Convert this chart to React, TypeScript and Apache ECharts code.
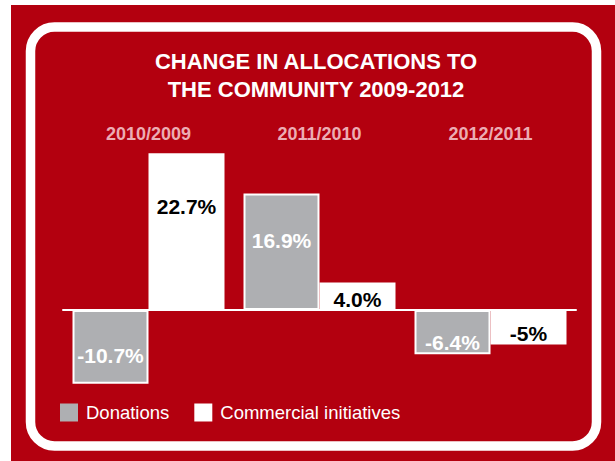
import React, { useEffect, useRef } from "react";
import * as echarts from "echarts";

const categories = ["2010/2009", "2011/2010", "2012/2011"];
const donations = [-10.7, 16.9, -6.4];
const commercial = [22.7, 4.0, -5];
const seriesNames = ["Donations", "Commercial initiatives"];
const titleLines = ["CHANGE IN ALLOCATIONS TO", "THE COMMUNITY 2009-2012"];

const RED = "#b3000f";
const GRAY = "#aeafb2";
const FONT = "'Liberation Sans', Arial, Helvetica, sans-serif";

const donationLabelOffsetY = [9, -11, 10];
const commercialLabelOffsetY = [-25, 3, 6];

const fmt = (v: number) => (Number.isInteger(v) && v < 0 ? `${v}%` : `${v.toFixed(1)}%`);

export default function App() {
  const ref = useRef<HTMLDivElement>(null);
  useEffect(() => {
    if (!ref.current) return;
    const chart = echarts.init(ref.current, undefined, { renderer: "svg" });
    const labelBase = {
      show: true,
      position: "inside" as const,
      fontFamily: FONT,
      fontSize: 21,
      fontWeight: "bold" as const,
    };
    chart.setOption({
      animation: false,
      backgroundColor: "#ffffff",
      graphic: [
        { type: "rect", z: -10, shape: { x: 11, y: 5, width: 604, height: 456 }, style: { fill: RED } },
        {
          type: "rect",
          z: -9,
          shape: { x: 30.5, y: 27, width: 566, height: 419, r: 24 },
          style: { fill: "none", stroke: "#ffffff", lineWidth: 9.5 },
        },
        {
          type: "text",
          z: 10,
          x: 316,
          y: 75.5,
          style: {
            text: titleLines.join("\n"),
            align: "center",
            verticalAlign: "middle",
            fill: "#ffffff",
            fontFamily: FONT,
            fontSize: 22,
            fontWeight: "bold",
            lineHeight: 27.5,
          },
        },
      ],
      grid: { left: 63, width: 513, top: 144.4, height: 248.4, containLabel: false },
      legend: {
        data: seriesNames,
        left: 55,
        top: 398,
        icon: "rect",
        itemWidth: 18,
        itemHeight: 18,
        itemGap: 25,
        itemStyle: { borderWidth: 0 },
        textStyle: { color: "#ffffff", fontFamily: FONT, fontSize: 18.5, padding: [0, 0, 0, 3] },
      },
      xAxis: [
        {
          type: "category",
          data: categories,
          axisLine: { show: true, onZero: true, lineStyle: { color: "#ffffff", width: 2 } },
          axisTick: { show: false },
          axisLabel: { show: false },
          splitLine: { show: false },
        },
        {
          type: "category",
          data: categories,
          position: "top",
          axisLine: { show: false },
          axisTick: { show: false },
          axisLabel: {
            show: true,
            margin: 1,
            color: "#ecacb3",
            fontFamily: FONT,
            fontSize: 18,
            fontWeight: "bold",
          },
          splitLine: { show: false },
        },
      ],
      yAxis: { type: "value", min: -12, max: 24, show: false, splitLine: { show: false } },
      series: [
        {
          name: seriesNames[0],
          type: "bar",
          barWidth: 76,
          barGap: "0%",
          itemStyle: { color: GRAY, borderColor: "#ffffff", borderWidth: 2 },
          data: donations.map((v, i) => ({
            value: v,
            label: { ...labelBase, color: "#ffffff", offset: [0, donationLabelOffsetY[i]], formatter: () => fmt(v) },
          })),
        },
        {
          name: seriesNames[1],
          type: "bar",
          barWidth: 76,
          barGap: "0%",
          itemStyle: { color: "#ffffff", borderColor: "#ffffff", borderWidth: 2 },
          data: commercial.map((v, i) => ({
            value: v,
            label: { ...labelBase, color: "#000000", offset: [0, commercialLabelOffsetY[i]], formatter: () => fmt(v) },
          })),
        },
      ],
    });
    return () => chart.dispose();
  }, []);
  return <div ref={ref} style={{ position: "fixed", left: 0, top: 0, width: 615, height: 461 }} />;
}
